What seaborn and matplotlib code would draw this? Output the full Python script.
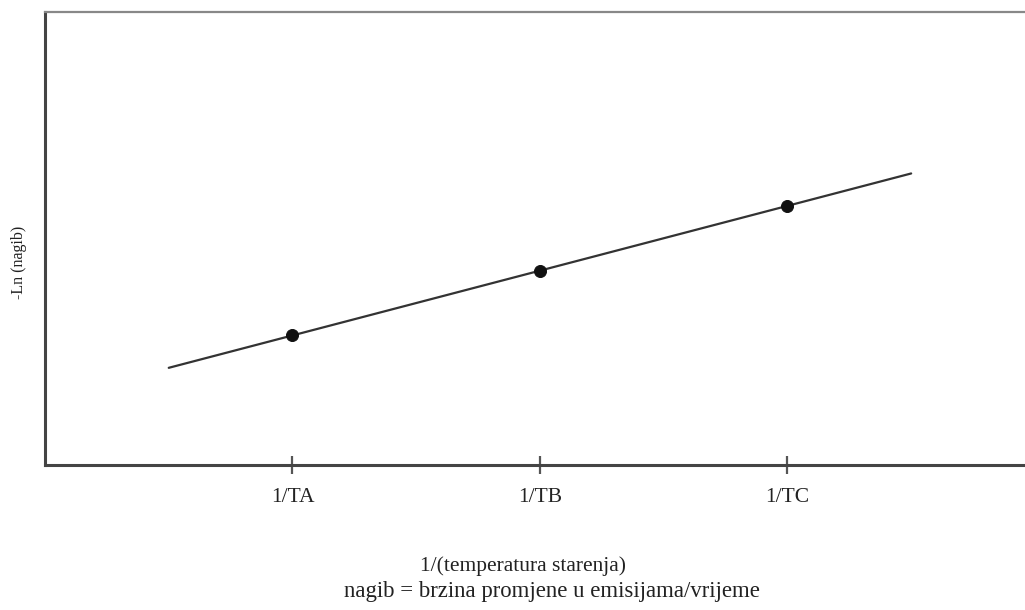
import matplotlib
matplotlib.use("Agg")
import matplotlib.pyplot as plt
import seaborn as sns
import pandas as pd

# Data
point_x = [1, 2, 3]
point_y = [1.0, 2.0, 3.0]
line_x = [0.5, 3.5]
line_y = [0.5, 3.5]
tick_labels = ["1/TA", "1/TB", "1/TC"]
ylabel = "-Ln (nagib)"
xlabel_1 = "1/(temperatura starenja)"
xlabel_2 = "nagib = brzina promjene u emisijama/vrijeme"

sns.set_style("white")
plt.rcParams['font.family'] = ['Liberation Serif', 'DejaVu Serif']

fig = plt.figure(figsize=(10.25, 6.1), dpi=100)
ax = fig.add_axes([45/1025, (610-465)/610, (1025-45)/1025, (465-11.5)/610])

df_line = pd.DataFrame({"x": line_x, "y": line_y})
df_pts = pd.DataFrame({"x": point_x, "y": point_y})
sns.lineplot(data=df_line, x="x", y="y", ax=ax, color="#333333", linewidth=1.6)
sns.scatterplot(data=df_pts, x="x", y="y", ax=ax, color="#111111", s=75, edgecolor="#111111", zorder=3)

ax.set_xlim(0, 3.96)
ax.set_ylim(-1, 6)
ax.set_xticks(point_x)
ax.set_xticklabels(tick_labels, fontsize=15.5, color="#222222")
ax.set_yticks([])
ax.set_xlabel("")
ax.set_ylabel("")
ax.tick_params(axis="x", direction="inout", length=13, width=1.6, color="#555555", pad=10, bottom=True)

ax.spines["left"].set_color("#444444")
ax.spines["left"].set_linewidth(2.2)
ax.spines["bottom"].set_color("#444444")
ax.spines["bottom"].set_linewidth(2.2)
ax.spines["top"].set_color("#888888")
ax.spines["top"].set_linewidth(1.6)
ax.spines["right"].set_visible(False)

fig.text(523/1025, 1 - 566/610, xlabel_1, ha="center", va="center", fontsize=15.5, color="#222222")
fig.text(552/1025, 1 - 591/610, xlabel_2, ha="center", va="center", fontsize=16.4, color="#222222")
fig.text(19/1025, 1 - 262/610, ylabel, ha="center", va="center", rotation=90, fontsize=11.5, color="#222222")

fig.savefig("out.png", dpi=100)
